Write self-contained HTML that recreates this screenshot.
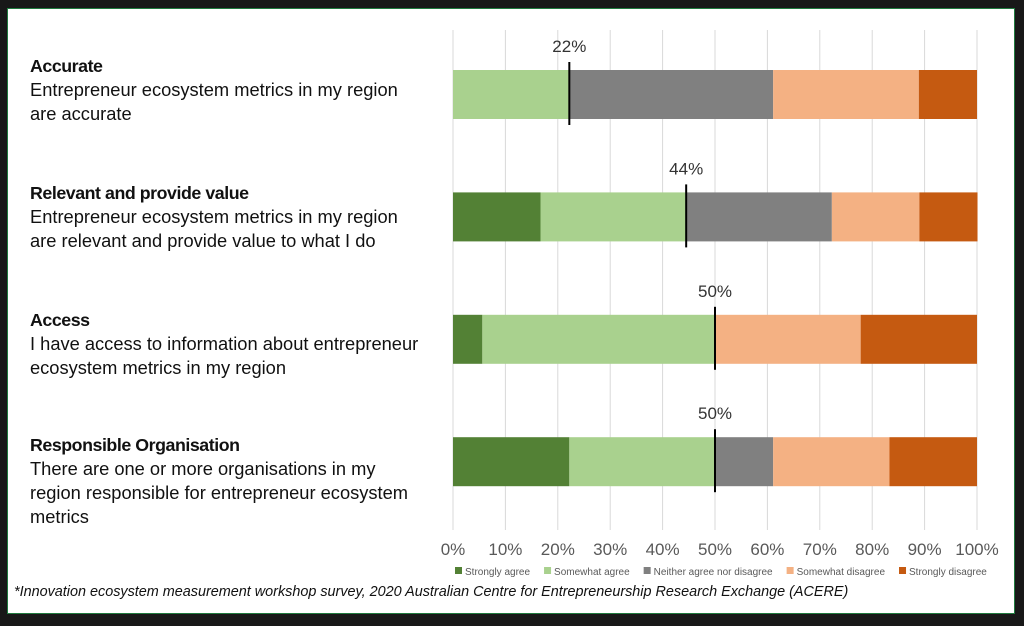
<!DOCTYPE html>
<html><head><meta charset="utf-8"><style>
body{margin:0;background:#181818;width:1024px;height:626px;overflow:hidden;font-family:"Liberation Sans",sans-serif;}
#frame{position:absolute;left:7px;top:8px;width:1008px;height:606px;background:#fff;border:1px solid #1f7a3e;box-sizing:border-box;}
.q{position:absolute;left:30px;font-size:18.3px;line-height:24px;color:#111;}
.q b{font-weight:bold;font-size:17.8px;letter-spacing:-0.45px;}
#foot{position:absolute;left:14px;top:584px;font-size:14.4px;font-style:italic;color:#111;}
</style></head><body>
<div id="frame"></div>
<div class="q" style="top:54px"><b>Accurate</b><br>Entrepreneur ecosystem metrics in my region<br>are accurate</div>
<div class="q" style="top:181px"><b>Relevant and provide value</b><br>Entrepreneur ecosystem metrics in my region<br>are relevant and provide value to what I do</div>
<div class="q" style="top:308px"><b>Access</b><br>I have access to information about entrepreneur<br>ecosystem metrics in my region</div>
<div class="q" style="top:433px"><b>Responsible Organisation</b><br>There are one or more organisations in my<br>region responsible for entrepreneur ecosystem<br>metrics</div>
<div id="foot">*Innovation ecosystem measurement workshop survey, 2020 Australian Centre for Entrepreneurship Research Exchange (ACERE)</div>
<svg id="chart" width="1024" height="626" style="position:absolute;left:0;top:0"></svg>
<script>
const categories=["Accurate","Relevant and provide value","Access","Responsible Organisation"];
const seriesNames=["Strongly agree","Somewhat agree","Neither agree nor disagree","Somewhat disagree","Strongly disagree"];
const stronglyAgree=[0,16.7,5.6,22.2];
const somewhatAgree=[22.2,27.8,44.4,27.8];
const neither=[38.9,27.8,0,11.1];
const somewhatDisagree=[27.8,16.7,27.8,22.2];
const stronglyDisagree=[11.1,11.1,22.2,16.7];
const markerLabels=["22%","44%","50%","50%"];
const ticks=[0,10,20,30,40,50,60,70,80,90,100];
const colors=["#538135","#a9d18e","#808080","#f4b183","#c55a11"];
const NS="http://www.w3.org/2000/svg";
const svg=document.getElementById('chart');
const x=v=>453+v*5.24;
const rowTop=i=>70+i*122.4;
const barH=49;
function mk(t,a){const e=document.createElementNS(NS,t);for(const k in a)e.setAttribute(k,a[k]);svg.appendChild(e);return e;}
ticks.forEach(t=>{
 const g=mk('line',{x1:x(t),x2:x(t),y1:30,y2:530,stroke:'#d9d9d9','stroke-width':1});
 
 
 const l=mk('text',{x:x(t),y:555,'text-anchor':'middle','font-size':17,fill:'#595959','font-family':'Liberation Sans, sans-serif'});
 l.textContent=t+'%';
 
 
});
const series=[stronglyAgree,somewhatAgree,neither,somewhatDisagree,stronglyDisagree];
categories.forEach((c,i)=>{
 let cum=0;
 series.forEach((s,j)=>{
  const r=mk('rect',{x:x(cum),y:rowTop(i),width:s[i]*5.24,height:barH,fill:colors[j]});
  
  
  cum+=s[i];
 });
 const m=stronglyAgree[i]+somewhatAgree[i];
 const ln=mk('line',{x1:x(m),x2:x(m),y1:rowTop(i)-8,y2:rowTop(i)+barH+6,stroke:'#000','stroke-width':2});
 
 
 const t=mk('text',{x:x(m),y:rowTop(i)-18,'text-anchor':'middle','font-size':17,fill:'#333','font-family':'Liberation Sans, sans-serif'});
 t.textContent=markerLabels[i];
 
 
});
let lx=455;
seriesNames.forEach((n,j)=>{
 const sq=mk('rect',{x:lx,y:567,width:7,height:7,fill:colors[j]});
 
 
 const t=mk('text',{x:lx+10,y:575,'font-size':10,fill:'#595959','font-family':'Liberation Sans, sans-serif'});
 t.textContent=n;
 
 
 lx+=t.getComputedTextLength()+24;
});
</script>
</body></html>
